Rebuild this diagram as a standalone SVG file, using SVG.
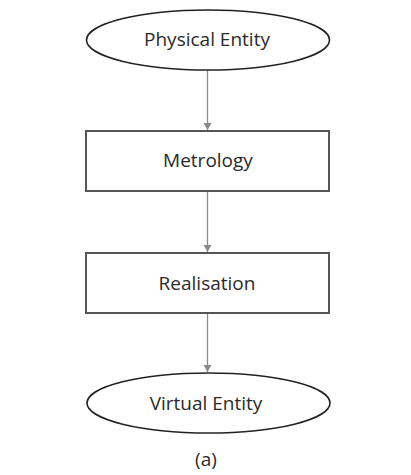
<svg xmlns="http://www.w3.org/2000/svg" width="411" height="475" viewBox="0 0 411 475">
<style>
.t{font-family:"Open Sans","Noto Sans",sans-serif;font-size:19px;fill:#2a2a2a;text-anchor:middle}
.e{fill:#fff;stroke:#222;stroke-width:1.6}
.r{fill:#fff;stroke:#555;stroke-width:2}
.c{stroke:#8a8a8a;stroke-width:1.3;fill:none}
</style>
<defs>
<marker id="ah" markerWidth="8" markerHeight="10" refX="7" refY="5" orient="auto" markerUnits="userSpaceOnUse">
<path d="M0,1 L7,5 L0,9 Z" fill="#8a8a8a"/>
</marker>
</defs>
<rect width="411" height="475" fill="#fff"/>
<g id="connectors">
<line class="c" x1="207.5" y1="70" x2="207.5" y2="130" marker-end="url(#ah)"/>
<line class="c" x1="207.5" y1="192" x2="207.5" y2="252" marker-end="url(#ah)"/>
<line class="c" x1="207.5" y1="314" x2="207.5" y2="372" marker-end="url(#ah)"/>
</g>
<g id="physical">
<ellipse class="e" cx="208" cy="40" rx="121.5" ry="30"/>
<text class="t" x="207" y="46">Physical Entity</text>
</g>
<g id="metrology">
<rect class="r" x="86" y="131" width="243" height="60"/>
<text class="t" x="208" y="167">Metrology</text>
</g>
<g id="realisation">
<rect class="r" x="86" y="253" width="243" height="60"/>
<text class="t" x="207" y="290">Realisation</text>
</g>
<g id="virtual">
<ellipse class="e" cx="208.5" cy="403" rx="121.5" ry="30"/>
<text class="t" x="206" y="410">Virtual Entity</text>
</g>
<text class="t" x="206" y="466">(a)</text>
</svg>
